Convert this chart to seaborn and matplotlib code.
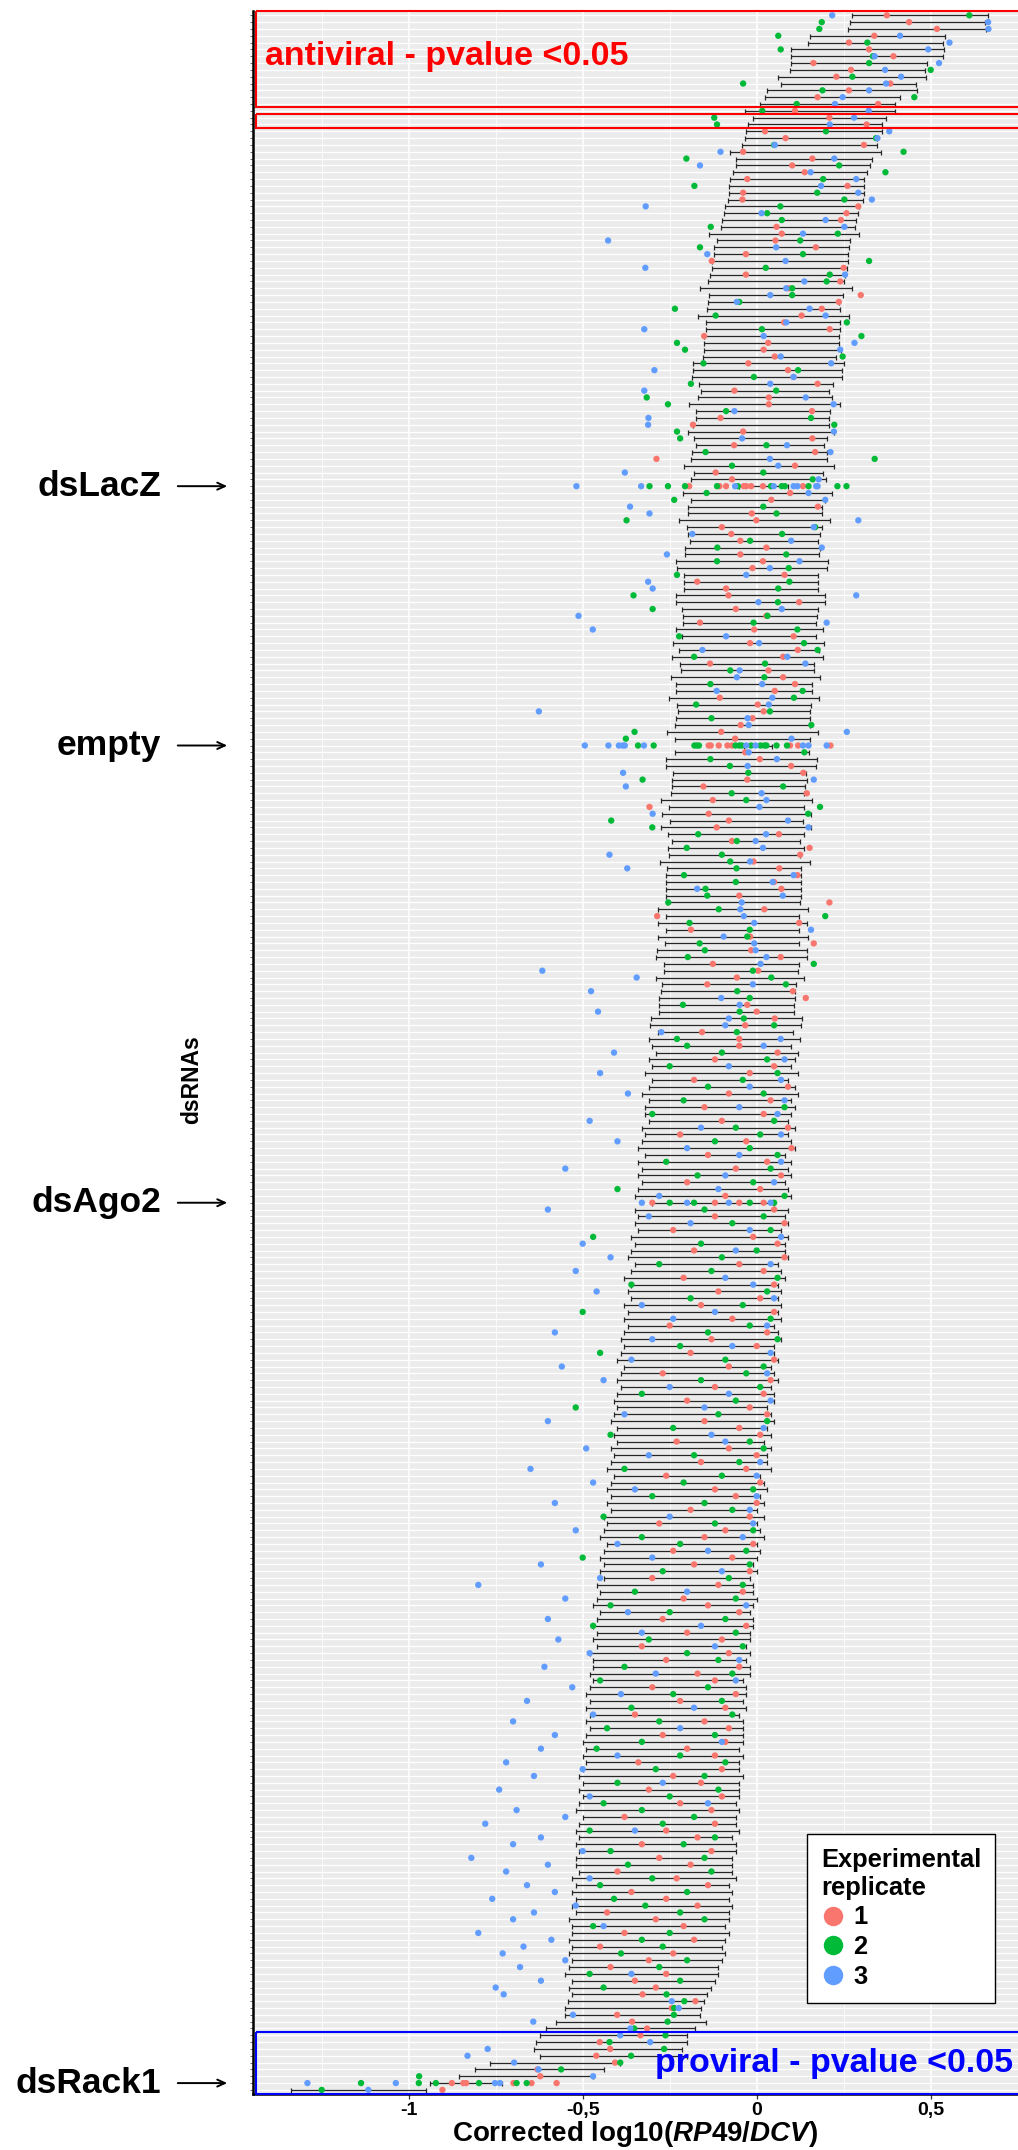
import numpy as np
import pandas as pd
import matplotlib
matplotlib.use("Agg")
import matplotlib.pyplot as plt
import matplotlib.transforms as mtransforms
from matplotlib.patches import Rectangle
from matplotlib.lines import Line2D
import seaborn as sns

nan = float("nan")

# ---------------- data (one entry per dsRNA row, top to bottom) ----------------
bar_low = [
    0.274, 0.269, 0.263, 0.153, 0.147, 0.100, 0.100, 0.100, 0.095, 0.060,
    0.069, 0.030, 0.023, 0.010, -0.034, -0.012, -0.026, -0.030, -0.035, -0.041,
    -0.076, -0.060, -0.060, -0.068, -0.077, -0.080, -0.080, -0.083, -0.090, -0.094,
    -0.100, -0.102, -0.137, -0.115, -0.122, -0.122, -0.129, -0.128, -0.133, -0.141,
    -0.163, -0.138, -0.140, -0.144, -0.170, -0.145, -0.145, -0.151, -0.152, -0.152,
    -0.153, -0.182, -0.182, -0.187, -0.166, -0.159, -0.170, -0.195, -0.175, -0.175,
    -0.183, -0.198, -0.180, -0.175, -0.187, -0.189, -0.209, -0.179, -0.190, -0.050,
    -0.213, -0.190, -0.198, -0.198, -0.223, -0.200, -0.197, -0.193, -0.205, -0.205,
    -0.231, -0.229, -0.210, -0.210, -0.210, -0.233, -0.233, -0.216, -0.213, -0.213,
    -0.233, -0.216, -0.240, -0.223, -0.244, -0.220, -0.218, -0.247, -0.231, -0.231,
    -0.252, -0.229, -0.227, -0.232, -0.235, -0.259, -0.236, -0.037, -0.236, -0.260,
    -0.262, -0.240, -0.242, -0.244, -0.247, -0.274, -0.251, -0.271, -0.250, -0.274,
    -0.254, -0.242, -0.255, -0.252, -0.277, -0.258, -0.260, -0.260, -0.260, -0.262,
    -0.258, -0.284, -0.260, -0.284, -0.262, -0.285, -0.263, -0.286, -0.289, -0.266,
    -0.265, -0.289, -0.271, -0.274, -0.280, -0.281, -0.281, -0.305, -0.307, -0.284,
    -0.309,
    -0.30, -0.29, -0.31, -0.30, -0.32, -0.30, -0.31, -0.33, -0.31, -0.32,
    -0.32, -0.31, -0.33, -0.32, -0.33, -0.34, -0.32, -0.34, -0.33, -0.34,
    -0.33, -0.34, -0.35, -0.30, -0.35, -0.34, -0.35, -0.34, -0.36, -0.35,
    -0.36, -0.37, -0.35, -0.36, -0.38, -0.36, -0.37, -0.36, -0.38, -0.37,
    -0.38, -0.37, -0.38, -0.39, -0.38, -0.39, -0.40, -0.38, -0.39, -0.40,
    -0.39, -0.40, -0.41, -0.40, -0.41, -0.42, -0.40, -0.41, -0.40, -0.42,
    -0.41, -0.42, -0.43, -0.41, -0.42, -0.43, -0.42, -0.43, -0.42, -0.44,
    -0.43, -0.44, -0.45, -0.43, -0.44, -0.45, -0.44, -0.45, -0.44, -0.46,
    -0.45, -0.46, -0.47, -0.45, -0.46, -0.47, -0.46, -0.47, -0.46, -0.48,
    -0.47, -0.47, -0.48, -0.47, -0.48, -0.49, -0.48, -0.49, -0.48, -0.49,
    -0.48, -0.49, -0.50, -0.49, -0.50, -0.49, -0.50, -0.51, -0.50, -0.51,
    -0.50, -0.51, -0.52, -0.50, -0.51, -0.52, -0.51, -0.52, -0.51, -0.52,
    -0.52, -0.51, -0.53, -0.52, -0.53, -0.52, -0.53, -0.52, -0.54, -0.53,
    -0.53, -0.54, -0.53, -0.54, -0.53, -0.54, -0.55, -0.53, -0.54,
    -0.531, -0.541, -0.551, -0.551, -0.576, -0.604, -0.624, -0.634, -0.639, -0.624,
    -0.765, -0.810, -0.855, -0.939, -1.339,
]

bar_high = [
    0.665, 0.655, 0.658, 0.541, 0.536, 0.537, 0.535, 0.488, 0.484, 0.487,
    0.459, 0.460, 0.411, 0.398, 0.398, 0.372, 0.360, 0.360, 0.346, 0.346,
    0.358, 0.332, 0.327, 0.318, 0.309, 0.309, 0.307, 0.305, 0.294, 0.290,
    0.285, 0.282, 0.293, 0.269, 0.266, 0.263, 0.263, 0.259, 0.254, 0.251,
    0.273, 0.248, 0.236, 0.240, 0.266, 0.239, 0.239, 0.237, 0.236, 0.242,
    0.229, 0.252, 0.244, 0.246, 0.218, 0.209, 0.217, 0.240, 0.210, 0.208,
    0.208, 0.222, 0.202, 0.193, 0.201, 0.201, 0.221, 0.191, 0.198, 0.090,
    0.216, 0.195, 0.189, 0.187, 0.212, 0.187, 0.183, 0.175, 0.182, 0.179,
    0.205, 0.202, 0.175, 0.175, 0.175, 0.197, 0.196, 0.175, 0.172, 0.171,
    0.191, 0.169, 0.194, 0.178, 0.191, 0.164, 0.164, 0.183, 0.160, 0.158,
    0.179, 0.156, 0.153, 0.153, 0.153, 0.175, 0.153, 0.045, 0.151, 0.174,
    0.170, 0.142, 0.144, 0.138, 0.137, 0.159, 0.136, 0.156, 0.133, 0.156,
    0.137, 0.125, 0.136, 0.125, 0.152, 0.126, 0.126, 0.126, 0.126, 0.126,
    0.125, 0.148, 0.122, 0.144, 0.122, 0.147, 0.123, 0.145, 0.145, 0.121,
    0.118, 0.137, 0.113, 0.111, 0.109, 0.106, 0.106, 0.130, 0.127, 0.103,
    0.125,
    0.10, 0.12, 0.11, 0.10, 0.12, 0.09, 0.11, 0.12, 0.10, 0.11,
    0.10, 0.09, 0.11, 0.09, 0.10, 0.11, 0.08, 0.10, 0.09, 0.10,
    0.08, 0.09, 0.10, 0.05, 0.09, 0.08, 0.09, 0.07, 0.09, 0.08,
    0.08, 0.09, 0.06, 0.07, 0.08, 0.06, 0.07, 0.06, 0.07, 0.06,
    0.07, 0.05, 0.06, 0.07, 0.05, 0.05, 0.06, 0.04, 0.05, 0.06,
    0.04, 0.05, 0.05, 0.03, 0.04, 0.05, 0.03, 0.04, 0.02, 0.04,
    0.03, 0.03, 0.04, 0.01, 0.02, 0.03, 0.01, 0.02, 0.00, 0.02,
    0.00, 0.01, 0.02, 0.00, 0.01, 0.00, -0.01, 0.00, -0.02, -0.01,
    -0.01, 0.00, -0.01, -0.02, -0.01, -0.01, -0.02, -0.02, -0.03, -0.02,
    -0.03, -0.02, -0.02, -0.04, -0.03, -0.03, -0.04, -0.03, -0.05, -0.04,
    -0.04, -0.04, -0.04, -0.05, -0.04, -0.05, -0.05, -0.04, -0.05, -0.05,
    -0.05, -0.06, -0.05, -0.06, -0.06, -0.05, -0.07, -0.06, -0.06, -0.07,
    -0.07, -0.07, -0.06, -0.08, -0.07, -0.08, -0.07, -0.08, -0.08, -0.09,
    -0.08, -0.09, -0.10, -0.09, -0.10, -0.11, -0.11, -0.12, -0.13,
    -0.144, -0.152, -0.159, -0.163, -0.145, -0.176, -0.199, -0.199, -0.215, -0.200,
    -0.394, -0.439, -0.470, -0.733, -0.951,
]

rep1 = [
    0.374, 0.438, 0.518, 0.338, 0.265, 0.323, 0.393, 0.163, 0.271, 0.229,
    0.384, 0.265, 0.175, 0.349, 0.110, 0.209, 0.316, 0.024, 0.083, 0.308,
    -0.039, 0.160, 0.102, 0.138, -0.027, 0.261, -0.039, -0.041, 0.292, 0.258,
    0.242, 0.057, 0.072, 0.054, 0.170, -0.031, -0.129, 0.250, -0.031, 0.240,
    0.092, 0.299, 0.236, 0.187, 0.129, 0.079, 0.210, -0.151, 0.033, 0.020,
    0.052, -0.024, 0.090, 0.106, 0.175, -0.064, 0.035, 0.035, 0.159, -0.104,
    -0.183, -0.039, 0.160, -0.065, 0.168, -0.288, 0.110, -0.118, -0.071, nan,
    0.096, 0.042, 0.176, -0.014, -0.001, -0.100, -0.073, -0.047, 0.028, -0.047,
    0.018, -0.012, 0.080, -0.171, -0.088, -0.081, 0.122, -0.060, 0.028, -0.163,
    -0.007, 0.106, -0.019, 0.118, 0.076, -0.134, 0.034, 0.076, 0.110, 0.052,
    -0.106, 0.003, 0.020, -0.012, -0.046, -0.102, -0.062, nan, -0.033, 0.009,
    0.099, 0.134, -0.027, -0.153, 0.144, -0.126, -0.308, -0.138, -0.080, -0.115,
    0.064, -0.071, 0.152, 0.125, -0.009, 0.065, 0.117, 0.050, 0.071, -0.050,
    0.209, 0.022, -0.286, 0.122, -0.189, -0.019, 0.164, -0.016, 0.069, -0.126,
    0.004, -0.057, -0.142, 0.104, 0.141, -0.027, 0.000, 0.052, -0.033, -0.157,
    -0.050,
    -0.05, 0.06, -0.12, 0.05, -0.02, -0.18, 0.09, -0.08, 0.04, -0.15,
    0.02, -0.10, 0.09, -0.22, -0.03, 0.10, -0.14, 0.03, -0.06, 0.07,
    -0.20, 0.01, -0.09, nan, 0.05, -0.12, 0.08, -0.24, -0.01, 0.06,
    -0.18, 0.08, -0.05, 0.02, -0.21, 0.05, -0.11, 0.01, -0.16, 0.05,
    -0.07, -0.25, 0.03, -0.13, 0.00, -0.19, 0.05, -0.08, -0.27, 0.04,
    -0.12, 0.02, -0.20, -0.02, 0.03, -0.15, -0.05, 0.01, -0.23, -0.08,
    0.00, -0.16, -0.03, -0.26, 0.01, -0.12, -0.06, 0.00, -0.19, -0.02,
    -0.28, -0.09, -0.15, -0.01, -0.24, -0.07, -0.18, -0.02, -0.30, -0.11,
    -0.04, -0.21, -0.14, -0.05, -0.27, -0.03, -0.20, -0.10, -0.33, -0.08,
    -0.26, -0.05, -0.17, -0.12, -0.30, -0.06, -0.22, -0.09, -0.35, -0.15,
    -0.08, -0.27, -0.09, -0.20, -0.12, -0.34, -0.10, -0.24, -0.16, -0.31,
    -0.10, -0.22, -0.13, -0.38, -0.12, -0.26, -0.17, -0.33, -0.13, -0.28,
    -0.19, -0.40, -0.23, -0.14, -0.36, -0.26, -0.17, -0.43, -0.29, -0.21,
    -0.38, -0.18, -0.45, -0.24, -0.31, -0.42, -0.26, -0.35, -0.29,
    -0.328, -0.176, -0.244, -0.401, -0.358, -0.315, -0.334, -0.451, -0.421, -0.461,
    -0.407, -0.630, -0.622, nan, -0.903,
]

rep2 = [
    0.611, 0.187, 0.180, 0.062, 0.318, 0.069, 0.334, 0.323, 0.500, 0.275,
    -0.039, 0.189, 0.453, 0.115, 0.016, -0.122, -0.114, 0.199, 0.343, 0.050,
    0.422, -0.202, 0.237, 0.370, 0.191, -0.179, 0.174, 0.252, 0.068, 0.030,
    0.072, -0.132, 0.233, 0.125, -0.163, 0.133, 0.323, 0.026, 0.210, 0.201,
    0.102, 0.102, -0.050, -0.235, -0.118, 0.259, 0.015, 0.301, -0.229, -0.206,
    0.247, -0.153, 0.119, -0.008, -0.189, 0.056, -0.316, -0.255, -0.088, 0.156,
    0.223, -0.229, -0.220, 0.028, -0.147, 0.339, -0.071, 0.019, 0.161, nan,
    -0.144, -0.237, 0.019, 0.057, -0.374, 0.168, 0.073, -0.019, -0.113, 0.085,
    -0.114, 0.092, -0.229, 0.094, 0.062, -0.354, 0.061, -0.299, 0.031, -0.009,
    0.117, -0.223, 0.136, 0.175, -0.180, 0.024, -0.076, 0.022, -0.133, 0.132,
    0.107, -0.174, 0.038, -0.130, 0.157, -0.351, -0.376, nan, 0.137, -0.133,
    -0.077, -0.024, -0.328, 0.076, -0.072, -0.030, 0.182, 0.148, -0.418, -0.300,
    -0.168, -0.057, -0.201, -0.100, -0.076, -0.058, -0.209, -0.060, -0.147, -0.142,
    -0.254, -0.109, 0.197, -0.193, -0.020, -0.027, -0.164, -0.149, -0.198, 0.164,
    -0.011, 0.042, 0.084, -0.056, -0.020, -0.212, -0.049, -0.037, 0.050, -0.057,
    -0.229,
    -0.20, -0.10, 0.03, -0.25, 0.06, -0.04, -0.14, 0.02, -0.21, 0.08,
    -0.30, 0.05, -0.06, 0.01, -0.12, -0.02, 0.06, -0.26, 0.04, -0.17,
    -0.01, -0.40, 0.08, nan, -0.15, 0.02, -0.07, 0.04, -0.47, -0.16,
    0.00, -0.10, -0.28, -0.13, 0.06, -0.36, 0.03, -0.19, -0.04, -0.50,
    0.04, -0.02, -0.14, 0.06, -0.22, -0.45, -0.09, 0.02, -0.03, -0.16,
    0.01, -0.33, -0.06, -0.52, -0.11, 0.03, -0.24, -0.42, -0.02, 0.02,
    -0.18, -0.05, -0.38, -0.10, -0.21, -0.01, -0.30, -0.15, -0.07, -0.44,
    -0.12, -0.01, -0.33, -0.22, -0.03, -0.50, -0.02, -0.27, -0.08, -0.04,
    -0.35, -0.06, -0.42, -0.25, -0.09, -0.47, -0.06, -0.31, -0.04, -0.20,
    -0.11, -0.38, -0.07, -0.45, -0.14, -0.24, -0.10, -0.36, -0.07, -0.28,
    -0.43, -0.12, -0.33, -0.46, -0.22, -0.09, -0.29, -0.15, -0.40, -0.11,
    -0.25, -0.44, -0.33, -0.18, -0.27, -0.48, -0.12, -0.21, -0.42, -0.15,
    -0.37, -0.13, -0.30, -0.45, -0.20, -0.41, -0.32, -0.22, -0.15, -0.47,
    -0.25, -0.33, -0.27, -0.39, -0.20, -0.28, -0.48, -0.22, -0.44,
    -0.259, -0.208, -0.237, -0.238, -0.256, -0.352, -0.262, -0.423, -0.266, -0.361,
    -0.392, -0.562, -0.970, nan, -1.250,
]

rep3 = [
    0.217, 0.665, 0.666, 0.412, 0.554, 0.493, 0.339, 0.524, 0.369, 0.415,
    0.372, 0.323, 0.247, 0.225, 0.322, 0.280, 0.210, 0.381, 0.347, 0.052,
    -0.104, 0.223, -0.163, 0.155, 0.286, 0.185, 0.292, 0.331, -0.319, 0.014,
    0.198, 0.252, 0.133, -0.427, 0.056, -0.142, 0.083, -0.320, 0.254, 0.137,
    0.085, 0.039, -0.057, 0.152, 0.198, 0.085, -0.323, 0.020, 0.281, 0.240,
    0.069, 0.214, -0.294, 0.106, 0.039, -0.323, 0.141, 0.221, -0.064, -0.311,
    -0.312, 0.222, -0.042, 0.087, 0.212, 0.038, 0.062, -0.379, 0.178, nan,
    0.149, 0.197, -0.364, -0.308, 0.292, 0.164, -0.185, 0.099, 0.187, -0.258,
    0.123, 0.038, -0.030, -0.312, -0.299, 0.286, 0.005, 0.072, -0.512, 0.201,
    -0.471, -0.088, 0.007, -0.156, 0.088, 0.140, -0.049, -0.057, 0.016, -0.115,
    0.045, 0.035, -0.626, -0.026, -0.023, 0.259, 0.100, nan, -0.023, 0.058,
    -0.026, -0.384, 0.164, -0.376, 0.014, 0.028, 0.008, -0.299, 0.090, 0.149,
    0.027, -0.003, 0.018, -0.423, -0.019, -0.372, 0.106, 0.046, -0.171, 0.075,
    -0.043, -0.047, -0.037, -0.007, 0.156, -0.095, -0.007, -0.003, 0.028, 0.011,
    -0.616, -0.345, -0.011, -0.476, -0.102, -0.049, -0.456, -0.080, -0.090, -0.274,
    0.069,
    0.02, -0.41, 0.08, -0.08, -0.45, 0.07, -0.02, -0.37, 0.08, -0.05,
    0.06, -0.48, -0.16, 0.07, -0.40, -0.20, -0.05, 0.07, -0.55, -0.09,
    0.05, -0.11, -0.28, nan, -0.60, -0.31, -0.19, -0.02, 0.07, -0.50,
    -0.06, -0.42, 0.04, -0.52, -0.09, -0.01, -0.46, 0.05, -0.33, -0.12,
    -0.24, 0.03, -0.58, -0.30, -0.07, 0.04, -0.36, -0.56, 0.03, -0.44,
    -0.25, -0.08, 0.04, -0.15, -0.38, -0.60, 0.02, -0.13, -0.09, -0.49,
    -0.31, 0.01, -0.65, 0.00, -0.47, -0.35, 0.00, -0.58, -0.02, -0.25,
    -0.01, -0.52, -0.04, -0.40, -0.14, -0.30, -0.62, -0.10, -0.45, -0.80,
    -0.20, -0.55, -0.03, -0.37, -0.60, -0.16, -0.33, -0.57, -0.12, -0.48,
    -0.05, -0.61, -0.29, -0.06, -0.53, -0.39, -0.66, -0.18, -0.47, -0.70,
    -0.22, -0.58, -0.10, -0.62, -0.40, -0.72, -0.50, -0.64, -0.27, -0.74,
    -0.48, -0.14, -0.69, -0.55, -0.78, -0.35, -0.62, -0.70, -0.50, -0.82,
    -0.60, -0.72, -0.48, -0.66, -0.58, -0.76, -0.52, -0.64, -0.70, -0.44,
    -0.80, -0.59, -0.67, -0.73, -0.55, -0.68, -0.36, -0.62, -0.75,
    -0.727, -0.244, -0.224, -0.528, -0.642, -0.363, -0.392, -0.306, -0.773, -0.831,
    -0.697, -0.627, -0.470, nan, -1.116,
]

# control dsRNAs with many replicate wells
control_names = ["dsLacZ", "empty", "dsAgo2", "dsRack1"]
control_rows = [69, 107, 174, 303]
lacz_rep1 = [-0.194, -0.107, -0.088, -0.037, -0.030, -0.016, 0.018, 0.133]
lacz_rep2 = [-0.308, -0.255, -0.206, -0.114, -0.054, 0.041, 0.072, 0.081, 0.149, 0.232, 0.258]
lacz_rep3 = [-0.518, -0.332, -0.062, 0.049, 0.106, 0.117, 0.171, 0.175]
empty_rep1 = [-0.138, -0.132, -0.109, -0.084, -0.071, 0.096, 0.119, 0.212]
empty_rep2 = [-0.341, -0.296, -0.179, -0.172, -0.166, -0.061, -0.050, -0.043, -0.016,
              0.011, 0.022, 0.028, 0.057, 0.087]
empty_rep3 = [-0.494, -0.426, -0.396, -0.385, -0.379, -0.324, -0.030, -0.003, 0.133, 0.149, 0.201]
ago2_rep1 = [-0.30, -0.12, -0.05, 0.02]
ago2_rep2 = [-0.25, -0.18, -0.02, 0.05]
ago2_rep3 = [-0.33, -0.20, -0.08, 0.04]
rack1_rep1 = [-0.876, -0.843, -0.835, -0.699, -0.647, -0.575]
rack1_rep2 = [-1.137, -0.971, -0.922, -0.798, -0.690, -0.661]
rack1_rep3 = [-1.291, -1.037, -0.752, -0.738]

tick_values = [-1.0, -0.5, 0.0, 0.5]
tick_labels = ["-1", "-0,5", "0", "0,5"]
minor_values = [-1.25, -0.75, -0.25, 0.25]
replicates = ["1", "2", "3"]
palette = ["#F8766D", "#00BA38", "#619CFF"]

n = len(bar_low)
assert n == len(bar_high) == len(rep1) == len(rep2) == len(rep3) == 305

# ---------------- build long table ----------------
records = []
for i in range(n):
    for rep, vals in zip(replicates, (rep1, rep2, rep3)):
        v = vals[i]
        if not np.isnan(v):
            records.append((i, v, rep))
control_points = [
    (lacz_rep1, lacz_rep2, lacz_rep3),
    (empty_rep1, empty_rep2, empty_rep3),
    (ago2_rep1, ago2_rep2, ago2_rep3),
    (rack1_rep1, rack1_rep2, rack1_rep3),
]
for row, reps in zip(control_rows, control_points):
    for rep, vals in zip(replicates, reps):
        for v in vals:
            records.append((row, v, rep))
df = pd.DataFrame(records, columns=["row", "value", "replicate"])

bars = pd.DataFrame({"row": np.arange(n), "low": bar_low, "high": bar_high})
bars["mid"] = (bars["low"] + bars["high"]) / 2

# ---------------- figure ----------------
plt.rcParams["font.family"] = ["Liberation Sans", "DejaVu Sans"]
plt.rcParams["mathtext.fontset"] = "custom"
plt.rcParams["mathtext.rm"] = "Liberation Sans:bold"
plt.rcParams["mathtext.it"] = "Liberation Sans:italic:bold"
plt.rcParams["mathtext.bf"] = "Liberation Sans:bold"

W, H = 1018, 2150
fig = plt.figure(figsize=(W / 100, H / 100), dpi=100)
p_left, p_right, p_top, p_bot = 253, 1018, 11.2, 2094
ax = fig.add_axes([p_left / W, 1 - p_bot / H, (p_right - p_left) / W, (p_bot - p_top) / H])
ax.set_facecolor("#EBEBEB")
ax.set_axisbelow(True)

ax.errorbar(bars["mid"], bars["row"],
            xerr=[bars["mid"] - bars["low"], bars["high"] - bars["mid"]],
            fmt="none", ecolor="#262626", elinewidth=0.9, capsize=1.8, capthick=0.9, zorder=2)

sns.scatterplot(data=df, x="value", y="row", hue="replicate", hue_order=replicates,
                palette=palette, s=21, linewidth=0, legend=False, ax=ax, zorder=3)

ax.set_xlim(-1.4474, 0.7509)
ax.set_ylim(n - 1 + 0.6, -0.6)

ax.set_yticks(np.arange(n))
ax.set_yticklabels([])
ax.set_xticks(tick_values)
ax.set_xticklabels(tick_labels, fontsize=14, fontweight="bold")
ax.set_xticks(minor_values, minor=True)
ax.tick_params(axis="x", which="major", length=3.5, width=0.9, color="#333333", pad=2.5)
ax.tick_params(axis="x", which="minor", length=0)
ax.tick_params(axis="y", length=2.5, width=0.5, color="#333333")
ax.grid(axis="y", which="major", color="white", lw=1.0)
ax.grid(axis="x", which="major", color="white", lw=1.1)
ax.grid(axis="x", which="minor", color="white", lw=0.55)

for s in ("top", "right"):
    ax.spines[s].set_visible(False)
for s in ("left", "bottom"):
    ax.spines[s].set_color("black")
    ax.spines[s].set_linewidth(1.8)

ax.set_xlabel(r"Corrected log10($\mathit{RP49/DCV}$)", fontsize=20, fontweight="bold")
ax.xaxis.set_label_coords(0.5, -(2134 - p_bot) / (p_bot - p_top))
ax.xaxis.label.set_va("center")
ax.set_ylabel("dsRNAs", fontsize=16.5, fontweight="bold")
ax.yaxis.set_label_coords((192 - p_left) / (p_right - p_left), 1 - (1080 - p_top) / (p_bot - p_top))
ax.yaxis.label.set_va("center")

# significance boxes
ax.add_patch(Rectangle((-1.439, -0.62), 3.0, 13.5 + 0.62, fill=False, edgecolor="#FF0000",
                       lw=1.5, clip_on=False, zorder=5))
ax.add_patch(Rectangle((-1.439, 14.5), 3.0, 2.0, fill=False, edgecolor="#FF0000",
                       lw=1.5, clip_on=False, zorder=5))
ax.add_patch(Rectangle((-1.439, 295.5), 3.0, n - 1 + 0.6 - 295.5, fill=False, edgecolor="#0000FF",
                       lw=1.5, clip_on=False, zorder=5))
ax.text(-1.413, 6.1, "antiviral - pvalue <0.05", color="#FF0000", fontsize=24.5,
        fontweight="bold", ha="left", va="center", zorder=6)
ax.text(0.738, 300.2, "proviral - pvalue <0.05", color="#0000FF", fontsize=24.5,
        fontweight="bold", ha="right", va="center", zorder=6)

# left annotations
trans = mtransforms.blended_transform_factory(fig.transFigure, ax.transData)
for name, row in zip(control_names, control_rows):
    fig.text(161 / W, row, name, transform=trans, ha="right", va="center",
             fontsize=25.5, fontweight="bold")
    ax.annotate("", xy=(230 / W, row), xytext=(175 / W, row), xycoords=trans, textcoords=trans,
                arrowprops=dict(arrowstyle="->,head_length=0.55,head_width=0.25", lw=1.4, color="black"),
                annotation_clip=False)

# legend
handles = [Line2D([0], [0], marker="o", ls="none", markerfacecolor=c, markeredgecolor="none",
                  markersize=14) for c in palette]
leg = fig.legend(handles, replicates, loc="upper left",
                 bbox_to_anchor=(807 / W, 1 - 1834 / H), bbox_transform=fig.transFigure,
                 title="Experimental\nreplicate",
                 prop=dict(weight="bold", size=18.4),
                 title_fontproperties=dict(weight="bold", size=18.4),
                 frameon=True, fancybox=False, framealpha=1, edgecolor="black",
                 borderpad=0.55, handlelength=0.95, handletextpad=0.3, labelspacing=0.22,
                 alignment="left", borderaxespad=0)
leg.get_frame().set_linewidth(1.0)

fig.savefig("out.png", dpi=100)
